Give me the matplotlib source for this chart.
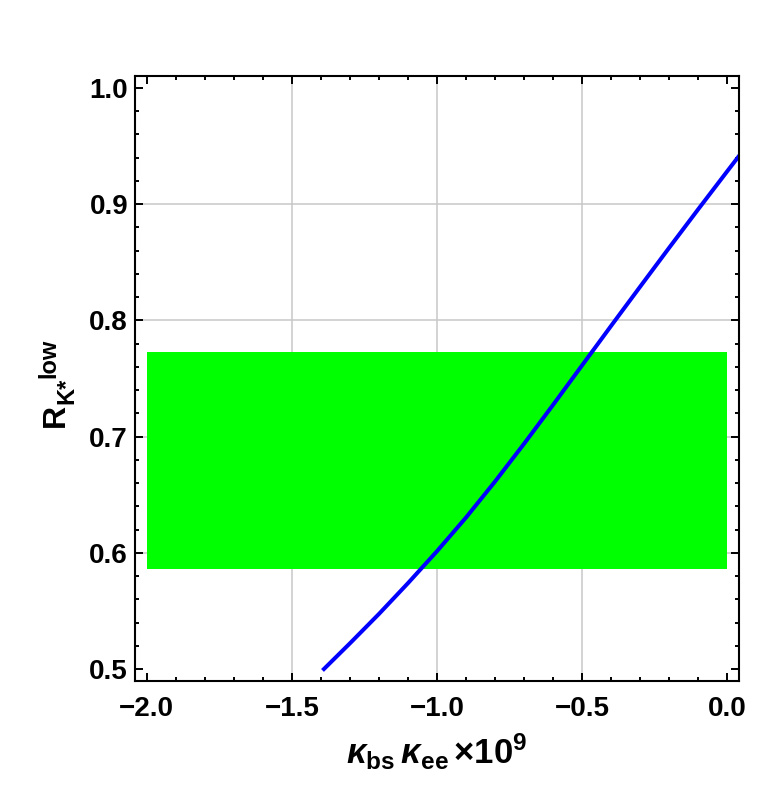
import numpy as np
import matplotlib.pyplot as plt
from matplotlib.ticker import MultipleLocator, FuncFormatter

plt.rcParams['font.family'] = ['Liberation Sans', 'DejaVu Sans']
plt.rcParams['font.weight'] = 'bold'
plt.rcParams['mathtext.fontset'] = 'custom'
plt.rcParams['mathtext.rm'] = 'Liberation Sans:bold'
plt.rcParams['mathtext.bf'] = 'Liberation Sans:bold'
plt.rcParams['mathtext.it'] = 'Liberation Sans:bold:italic'
plt.rcParams['mathtext.bfit'] = 'Liberation Sans:bold:italic'

# curve (kappa_bs * kappa_ee * 1e9  vs  R_K*^low)
kappa = [-1.39, -1.3, -1.2, -1.1, -1.0, -0.9, -0.8, -0.7, -0.6, -0.5,
         -0.4, -0.3, -0.2, -0.1, 0.0, 0.04]
r_low = [0.500, 0.5222, 0.5475, 0.5740, 0.6015, 0.6305, 0.6615, 0.6940,
         0.7275, 0.7615, 0.7955, 0.8292, 0.8627, 0.8958, 0.9285, 0.9415]

# experimental band
band_x = [-2.0, 0.0]
band_y = [0.5864, 0.7724]

fig = plt.figure(figsize=(7.82, 7.86), dpi=100)
ax = fig.add_axes([0.1726, 0.1336, 0.7724, 0.7697])

for gx in [-1.5, -1.0, -0.5]:
    ax.axvline(gx, color='#c8c8c8', lw=1.1, zorder=0)
for gy in [0.6, 0.7, 0.8, 0.9]:
    ax.axhline(gy, color='#c8c8c8', lw=1.1, zorder=0)

ax.fill_between(band_x, band_y[0], band_y[1], color='#00ff00', lw=0, zorder=1)
ax.plot(kappa, r_low, color='#0000ff', lw=2.9, zorder=2)

ax.set_xlim(-2.041, 0.04)
ax.set_ylim(0.4897, 1.0103)
ax.xaxis.set_major_locator(MultipleLocator(0.5))
ax.xaxis.set_minor_locator(MultipleLocator(0.1))
ax.yaxis.set_major_locator(MultipleLocator(0.1))
ax.yaxis.set_minor_locator(MultipleLocator(0.02))
fmt = FuncFormatter(lambda v, p: f'{v:.1f}'.replace('-', '\u2212'))
ax.xaxis.set_major_formatter(fmt)
ax.yaxis.set_major_formatter(fmt)

ax.tick_params(which='both', direction='in', top=True, right=True, width=1.4)
ax.tick_params(which='major', length=5.8)
ax.tick_params(which='minor', length=2.9)
ax.tick_params(axis='x', which='major', labelsize=20, pad=11)
ax.tick_params(axis='y', which='major', labelsize=20, pad=5)
for lab in ax.get_xticklabels() + ax.get_yticklabels():
    lab.set_fontweight('bold')
for sp in ax.spines.values():
    sp.set_linewidth(1.5)

ax.set_xlabel(r'$\mathbfit{κ}_{\mathbf{bs}}\,\mathbfit{κ}_{\mathbf{ee}}\,\mathbf{×10}^{\mathbf{9}}$',
              fontsize=25, labelpad=7)

# y label built from pieces so the scripts keep their size
fig.text(56 / 782, 1 - 415 / 786, 'R', rotation=90, ha='center', va='center',
         fontsize=23, fontweight='bold')
fig.text(49 / 782, 1 - 358 / 786, 'low', rotation=90, ha='center', va='center',
         fontsize=17, fontweight='bold')
fig.text(67 / 782, 1 - 391 / 786, 'K*', rotation=90, ha='center', va='center',
         fontsize=17, fontweight='bold')

fig.savefig('out.png', dpi=100)
